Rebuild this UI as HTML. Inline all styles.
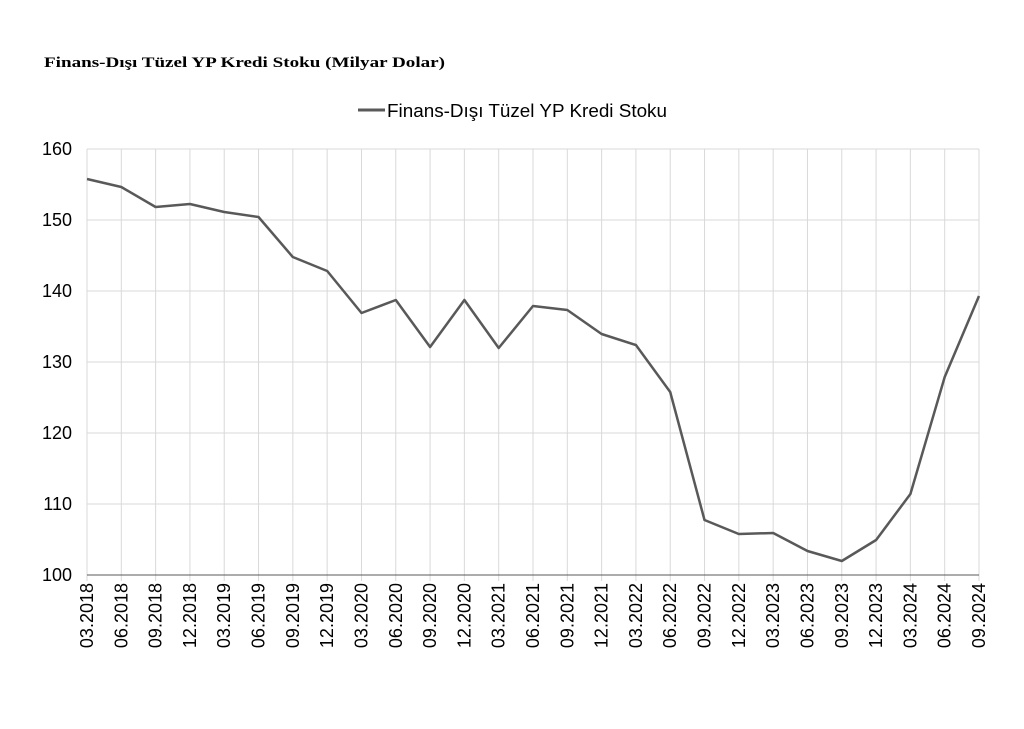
<!DOCTYPE html>
<html><head><meta charset="utf-8"><style>
body{margin:0;background:#fff;width:1024px;height:724px;overflow:hidden}
</style></head><body>
<svg width="1024" height="724" xmlns="http://www.w3.org/2000/svg">
<text x="44" y="67" font-family="Liberation Serif, serif" font-weight="bold" font-size="15" fill="#000" textLength="401" lengthAdjust="spacingAndGlyphs">Finans-Dışı Tüzel YP Kredi Stoku (Milyar Dolar)</text>
<line x1="358" y1="110" x2="385" y2="110" stroke="#595959" stroke-width="3"/>
<text x="387" y="117" font-family="Liberation Sans, sans-serif" font-size="18" fill="#000" textLength="280" lengthAdjust="spacingAndGlyphs">Finans-Dışı Tüzel YP Kredi Stoku</text>
<g stroke="#d9d9d9" stroke-width="1" id="grid"></g>
<g font-family="Liberation Sans, sans-serif" font-size="18" fill="#000" text-anchor="end" id="yl"></g>
<g font-family="Liberation Sans, sans-serif" font-size="18" fill="#000" text-anchor="end" id="xl"></g>
<line x1="87" y1="575" x2="979" y2="575" stroke="#595959" stroke-width="1"/>
<polyline id="ln" fill="none" stroke="#595959" stroke-width="2.5" stroke-linejoin="round"/>
</svg>
<script>
var ns="http://www.w3.org/2000/svg";
var g=document.getElementById('grid'),yl=document.getElementById('yl'),xl=document.getElementById('xl');
function el(t,a,p,txt){var e=document.createElementNS(ns,t);for(var k in a)e.setAttribute(k,a[k]);if(txt)e.textContent=txt;p.appendChild(e);}
for(var i=0;i<=6;i++){var y=149+i*71;el('line',{x1:87,y1:y,x2:979,y2:y},g);el('text',{x:72,y:y+6},yl,String(160-i*10));}
var labs=[],q=['03','06','09','12'];
for(var i=0;i<27;i++){var m=q[i%4],yr=2018+Math.floor(i/4);labs.push(m+'.'+yr);}
var sp=892/26;
for(var i=0;i<27;i++){var x=87+i*sp;el('line',{x1:x,y1:149,x2:x,y2:581},g);
el('text',{x:0,y:0,transform:'translate('+(x+6)+',583) rotate(-90)'},xl,labs[i]);}
var ys=[179,187,207,204,212,217,257,271,313,300,347,300,348,306,310,334,345,392,520,534,533,551,561,540,494,377,296];
var pts=ys.map(function(y,i){return (87+i*sp).toFixed(1)+','+y}).join(' ');
document.getElementById('ln').setAttribute('points',pts);
</script>
</body></html>
